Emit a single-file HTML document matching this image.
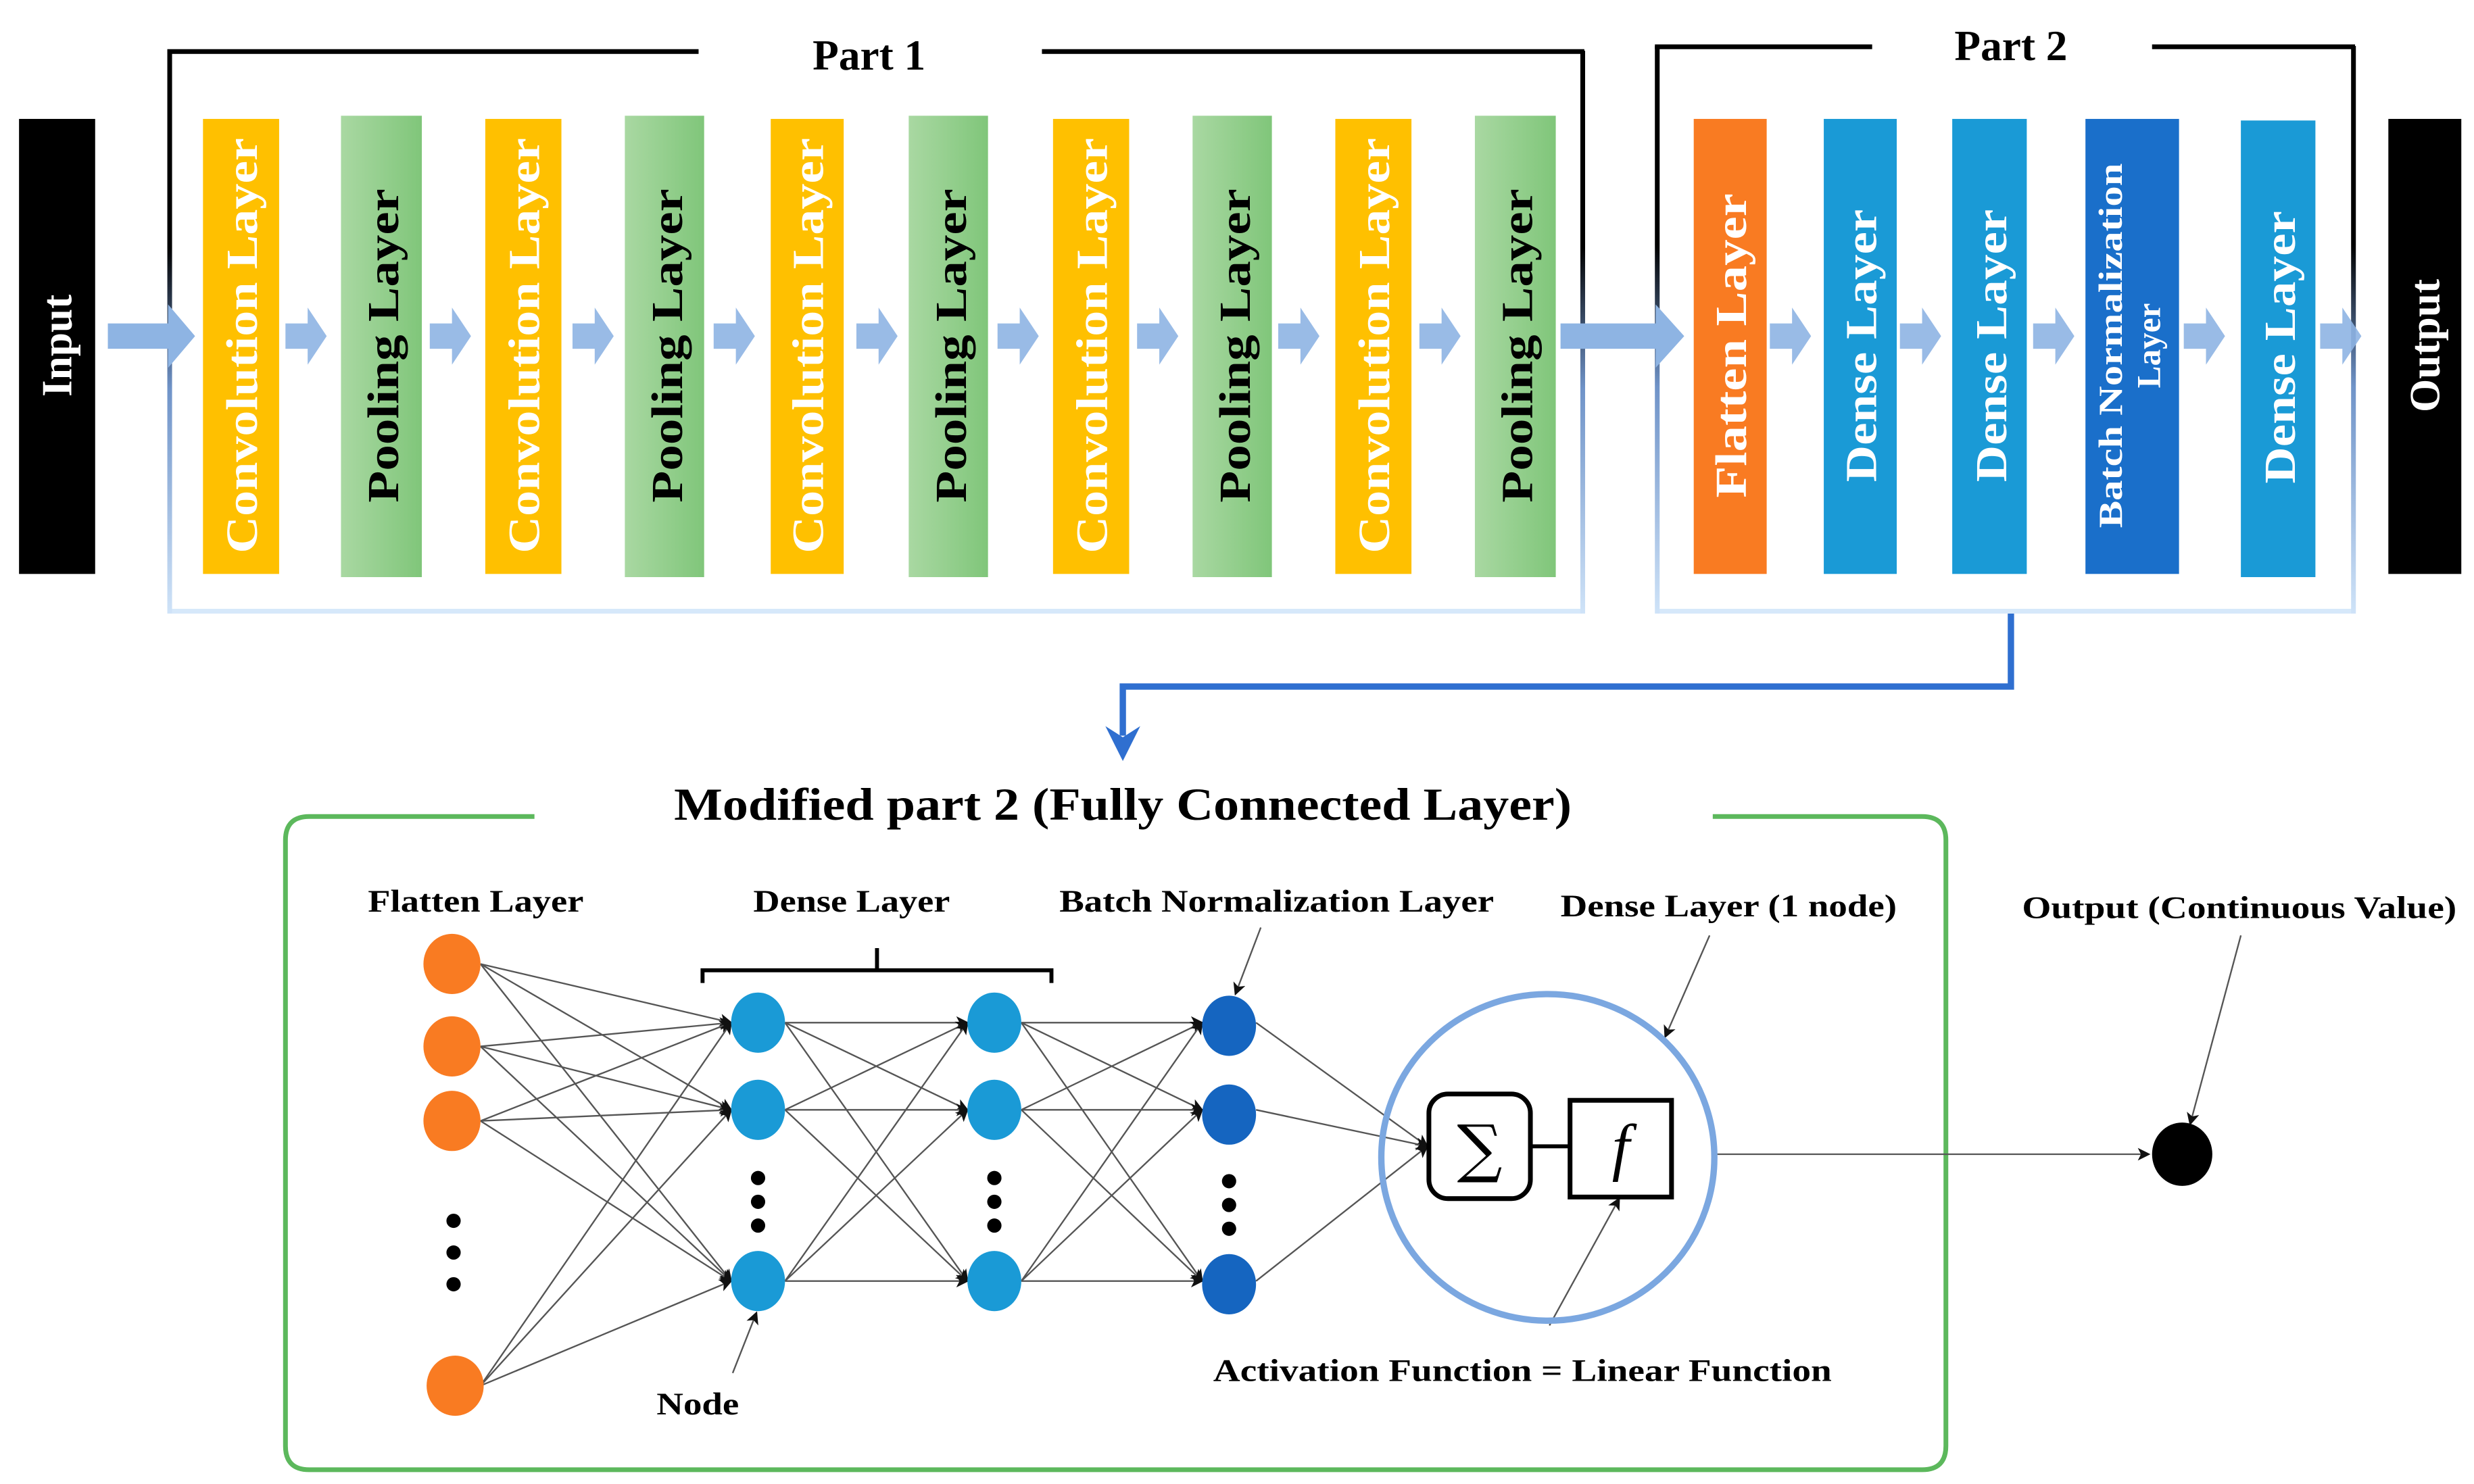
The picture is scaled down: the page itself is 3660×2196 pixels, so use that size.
<!DOCTYPE html>
<html><head><meta charset="utf-8"><style>
html,body{margin:0;padding:0;background:#fff;}
svg{display:block;}
text{font-family:"Liberation Serif",serif;font-weight:bold;}
</style></head><body>
<svg width="3660" height="2196" viewBox="0 0 1560 936" preserveAspectRatio="none" xmlns="http://www.w3.org/2000/svg">
<defs>
<linearGradient id="pool" x1="0" x2="1" y1="0" y2="0"><stop offset="0" stop-color="#a9d8a2"/><stop offset="1" stop-color="#80c67a"/></linearGradient>
<linearGradient id="vl" x1="0" x2="0" y1="0" y2="1"><stop offset="0" stop-color="#000"/><stop offset="0.35" stop-color="#000"/><stop offset="0.6" stop-color="#6f93c8"/><stop offset="1" stop-color="#cfe3f8"/></linearGradient>
<marker id="ah" markerWidth="8" markerHeight="8" refX="7" refY="4" orient="auto" markerUnits="userSpaceOnUse"><path d="M0,0 L8,4 L0,8 L2,4 Z" fill="#111"/></marker>
<g id="arr"><path d="M0,-8 h14 v-10 l12,18 l-12,18 v-10 h-14 Z" fill="#8eb4e3" opacity="0.9"/></g>
</defs>

<!-- Input / Output -->
<rect x="12" y="75" width="48" height="287" fill="#000"/>
<text transform="translate(45,218) rotate(-90)" text-anchor="middle" font-size="27" fill="#fff">Input</text>
<rect x="1506" y="75" width="46" height="287" fill="#000"/>
<text transform="translate(1538,218) rotate(-90)" text-anchor="middle" font-size="27" fill="#fff">Output</text>

<!-- Part brackets -->
<rect x="107" y="384" width="891" height="3" fill="#d6e8fa"/>
<rect x="105.5" y="32" width="3" height="355" fill="url(#vl)"/>
<rect x="996.5" y="32" width="3" height="355" fill="url(#vl)"/>
<rect x="105.5" y="31" width="335" height="3" fill="#000"/>
<rect x="657" y="31" width="342" height="3" fill="#000"/>
<text x="548" y="44" text-anchor="middle" font-size="27" fill="#000">Part 1</text>

<rect x="1045" y="384" width="440" height="3" fill="#d6e8fa"/>
<rect x="1043.5" y="29" width="3" height="358" fill="url(#vl)"/>
<rect x="1482.5" y="29" width="3" height="358" fill="url(#vl)"/>
<rect x="1043.5" y="28" width="137" height="3" fill="#000"/>
<rect x="1357" y="28" width="128" height="3" fill="#000"/>
<text x="1268" y="38" text-anchor="middle" font-size="27" fill="#000">Part 2</text>

<!-- arrows -->
<path d="M68,204 h38 v-12 l17,20 l-17,20 v-12 h-38 Z" fill="#8eb4e3"/>
<use href="#arr" x="180" y="212"/><use href="#arr" x="271" y="212"/><use href="#arr" x="361" y="212"/>
<use href="#arr" x="450" y="212"/><use href="#arr" x="540" y="212"/><use href="#arr" x="629" y="212"/>
<use href="#arr" x="717" y="212"/><use href="#arr" x="806" y="212"/><use href="#arr" x="895" y="212"/>
<path d="M984,204 h60 v-12 l18,20 l-18,20 v-12 h-60 Z" fill="#8eb4e3"/>
<use href="#arr" x="1116" y="212"/><use href="#arr" x="1198" y="212"/><use href="#arr" x="1282" y="212"/>
<use href="#arr" x="1377" y="212"/><use href="#arr" x="1463" y="212"/>

<!-- Part1 blocks -->
<g font-size="28">
<rect x="128" y="75" width="48" height="287" fill="#ffc000"/>
<text transform="translate(162,218) rotate(-90)" text-anchor="middle" fill="#fff" textLength="262" lengthAdjust="spacingAndGlyphs">Convolution Layer</text>
<rect x="215" y="73" width="51" height="291" fill="url(#pool)"/>
<text transform="translate(251,218) rotate(-90)" text-anchor="middle" fill="#000" textLength="198" lengthAdjust="spacingAndGlyphs">Pooling Layer</text>
<rect x="306" y="75" width="48" height="287" fill="#ffc000"/>
<text transform="translate(340,218) rotate(-90)" text-anchor="middle" fill="#fff" textLength="262" lengthAdjust="spacingAndGlyphs">Convolution Layer</text>
<rect x="394" y="73" width="50" height="291" fill="url(#pool)"/>
<text transform="translate(430,218) rotate(-90)" text-anchor="middle" fill="#000" textLength="198" lengthAdjust="spacingAndGlyphs">Pooling Layer</text>
<rect x="486" y="75" width="46" height="287" fill="#ffc000"/>
<text transform="translate(519,218) rotate(-90)" text-anchor="middle" fill="#fff" textLength="262" lengthAdjust="spacingAndGlyphs">Convolution Layer</text>
<rect x="573" y="73" width="50" height="291" fill="url(#pool)"/>
<text transform="translate(609,218) rotate(-90)" text-anchor="middle" fill="#000" textLength="198" lengthAdjust="spacingAndGlyphs">Pooling Layer</text>
<rect x="664" y="75" width="48" height="287" fill="#ffc000"/>
<text transform="translate(698,218) rotate(-90)" text-anchor="middle" fill="#fff" textLength="262" lengthAdjust="spacingAndGlyphs">Convolution Layer</text>
<rect x="752" y="73" width="50" height="291" fill="url(#pool)"/>
<text transform="translate(788,218) rotate(-90)" text-anchor="middle" fill="#000" textLength="198" lengthAdjust="spacingAndGlyphs">Pooling Layer</text>
<rect x="842" y="75" width="48" height="287" fill="#ffc000"/>
<text transform="translate(876,218) rotate(-90)" text-anchor="middle" fill="#fff" textLength="262" lengthAdjust="spacingAndGlyphs">Convolution Layer</text>
<rect x="930" y="73" width="51" height="291" fill="url(#pool)"/>
<text transform="translate(966,218) rotate(-90)" text-anchor="middle" fill="#000" textLength="198" lengthAdjust="spacingAndGlyphs">Pooling Layer</text>

<!-- Part2 blocks -->
<rect x="1068" y="75" width="46" height="287" fill="#f97b22"/>
<text transform="translate(1101,218) rotate(-90)" text-anchor="middle" fill="#fff" textLength="192" lengthAdjust="spacingAndGlyphs">Flatten Layer</text>
<rect x="1150" y="75" width="46" height="287" fill="#1a9ad6"/>
<text transform="translate(1183,218) rotate(-90)" text-anchor="middle" fill="#fff" textLength="172" lengthAdjust="spacingAndGlyphs">Dense Layer</text>
<rect x="1231" y="75" width="47" height="287" fill="#1a9ad6"/>
<text transform="translate(1265,218) rotate(-90)" text-anchor="middle" fill="#fff" textLength="172" lengthAdjust="spacingAndGlyphs">Dense Layer</text>
<rect x="1315" y="75" width="59" height="287" fill="#1a6fca"/>
<text transform="translate(1338,218) rotate(-90)" text-anchor="middle" fill="#fff" font-size="21" textLength="230" lengthAdjust="spacingAndGlyphs">Batch Normalization</text>
<text transform="translate(1362,218) rotate(-90)" text-anchor="middle" fill="#fff" font-size="21">Layer</text>
<rect x="1413" y="76" width="47" height="288" fill="#1a9ad6"/>
<text transform="translate(1447,219) rotate(-90)" text-anchor="middle" fill="#fff" textLength="172" lengthAdjust="spacingAndGlyphs">Dense Layer</text>
</g>

<!-- blue connector -->
<path d="M1268,387 V433 H708 V464" fill="none" stroke="#2f6fd0" stroke-width="4"/>
<path d="M697,458 L708,480 L719,458 L708,465 Z" fill="#2f6fd0"/>

<!-- green box -->
<path d="M337,515 H195 Q180,515 180,530 V912 Q180,927 195,927 H1212 Q1227,927 1227,912 V530 Q1227,515 1212,515 H1080" fill="none" stroke="#5cb85c" stroke-width="3"/>
<text x="708" y="517" text-anchor="middle" font-size="29" textLength="566" lengthAdjust="spacingAndGlyphs">Modified part 2 (Fully Connected Layer)</text>

<g font-size="20">
<text x="300" y="575" text-anchor="middle" textLength="136" lengthAdjust="spacingAndGlyphs">Flatten Layer</text>
<text x="537" y="575" text-anchor="middle" textLength="124" lengthAdjust="spacingAndGlyphs">Dense Layer</text>
<text x="805" y="575" text-anchor="middle" textLength="274" lengthAdjust="spacingAndGlyphs">Batch Normalization Layer</text>
<text x="1090" y="578" text-anchor="middle" textLength="212" lengthAdjust="spacingAndGlyphs">Dense Layer (1 node)</text>
<text x="1412" y="579" text-anchor="middle" textLength="274" lengthAdjust="spacingAndGlyphs">Output (Continuous Value)</text>
<text x="440" y="892" text-anchor="middle" textLength="52" lengthAdjust="spacingAndGlyphs">Node</text>
<text x="960" y="871" text-anchor="middle" textLength="390" lengthAdjust="spacingAndGlyphs">Activation Function = Linear Function</text>
</g>

<!-- bracket -->
<path d="M443,620 V612 H663 V620 M553,612 V598" fill="none" stroke="#000" stroke-width="2.5"/>

<!-- connections -->
<g stroke="#555" stroke-width="1" fill="none" marker-end="url(#ah)">
<path d="M303,608 L461,645"/><path d="M303,608 L461,700"/><path d="M303,608 L461,808"/>
<path d="M303,660 L461,645"/><path d="M303,660 L461,700"/><path d="M303,660 L461,808"/>
<path d="M303,707 L461,645"/><path d="M303,707 L461,700"/><path d="M303,707 L461,808"/>
<path d="M303,874 L461,645"/><path d="M303,874 L461,700"/><path d="M303,874 L461,808"/>
<path d="M495,645 L610,645"/><path d="M495,645 L610,700"/><path d="M495,645 L610,808"/>
<path d="M495,700 L610,645"/><path d="M495,700 L610,700"/><path d="M495,700 L610,808"/>
<path d="M495,808 L610,645"/><path d="M495,808 L610,700"/><path d="M495,808 L610,808"/>
<path d="M644,645 L758,645"/><path d="M644,645 L758,700"/><path d="M644,645 L758,808"/>
<path d="M644,700 L758,645"/><path d="M644,700 L758,700"/><path d="M644,700 L758,808"/>
<path d="M644,808 L758,645"/><path d="M644,808 L758,700"/><path d="M644,808 L758,808"/>
<path d="M792,645 L900,723"/><path d="M792,700 L900,723"/><path d="M792,808 L900,723"/>
<path d="M1082,728 L1355,728"/>
<path d="M462,866 L477,828"/>
<path d="M795,585 L779,627"/>
<path d="M1078,590 L1050,654"/>
<path d="M1413,590 L1381,709"/>
<path d="M977,836 L1021,756"/>
</g>

<!-- nodes -->
<g fill="#f97b22">
<ellipse cx="285" cy="608" rx="18" ry="19"/><ellipse cx="285" cy="660" rx="18" ry="19"/>
<ellipse cx="285" cy="707" rx="18" ry="19"/><ellipse cx="287" cy="874" rx="18" ry="19"/>
</g>
<g fill="#1a9ad6">
<ellipse cx="478" cy="645" rx="17" ry="19"/><ellipse cx="478" cy="700" rx="17" ry="19"/><ellipse cx="478" cy="808" rx="17" ry="19"/>
<ellipse cx="627" cy="645" rx="17" ry="19"/><ellipse cx="627" cy="700" rx="17" ry="19"/><ellipse cx="627" cy="808" rx="17" ry="19"/>
</g>
<g fill="#1565c0">
<ellipse cx="775" cy="647" rx="17" ry="19"/><ellipse cx="775" cy="703" rx="17" ry="19"/><ellipse cx="775" cy="810" rx="17" ry="19"/>
</g>
<g fill="#000">
<circle cx="286" cy="770" r="4.5"/><circle cx="286" cy="790" r="4.5"/><circle cx="286" cy="810" r="4.5"/>
<circle cx="478" cy="743" r="4.5"/><circle cx="478" cy="758" r="4.5"/><circle cx="478" cy="773" r="4.5"/>
<circle cx="627" cy="743" r="4.5"/><circle cx="627" cy="758" r="4.5"/><circle cx="627" cy="773" r="4.5"/>
<circle cx="775" cy="745" r="4.5"/><circle cx="775" cy="760" r="4.5"/><circle cx="775" cy="775" r="4.5"/>
<ellipse cx="1376" cy="728" rx="19" ry="20"/>
</g>

<!-- big circle -->
<ellipse cx="976" cy="730" rx="105" ry="103" fill="none" stroke="#7ba7e0" stroke-width="4"/>
<rect x="901" y="690" width="64" height="66" rx="12" fill="#fff" stroke="#000" stroke-width="3"/>
<rect x="990" y="694" width="64" height="61" fill="#fff" stroke="#000" stroke-width="3"/>
<line x1="965" y1="723" x2="990" y2="723" stroke="#000" stroke-width="2.5"/>
<text x="933" y="738" text-anchor="middle" font-size="40" font-weight="normal" style="font-family:'DejaVu Serif',serif;font-weight:normal">∑</text>
<text x="1022" y="737" text-anchor="middle" font-size="40" style="font-style:italic;font-weight:normal">f</text>
</svg>
</body></html>
